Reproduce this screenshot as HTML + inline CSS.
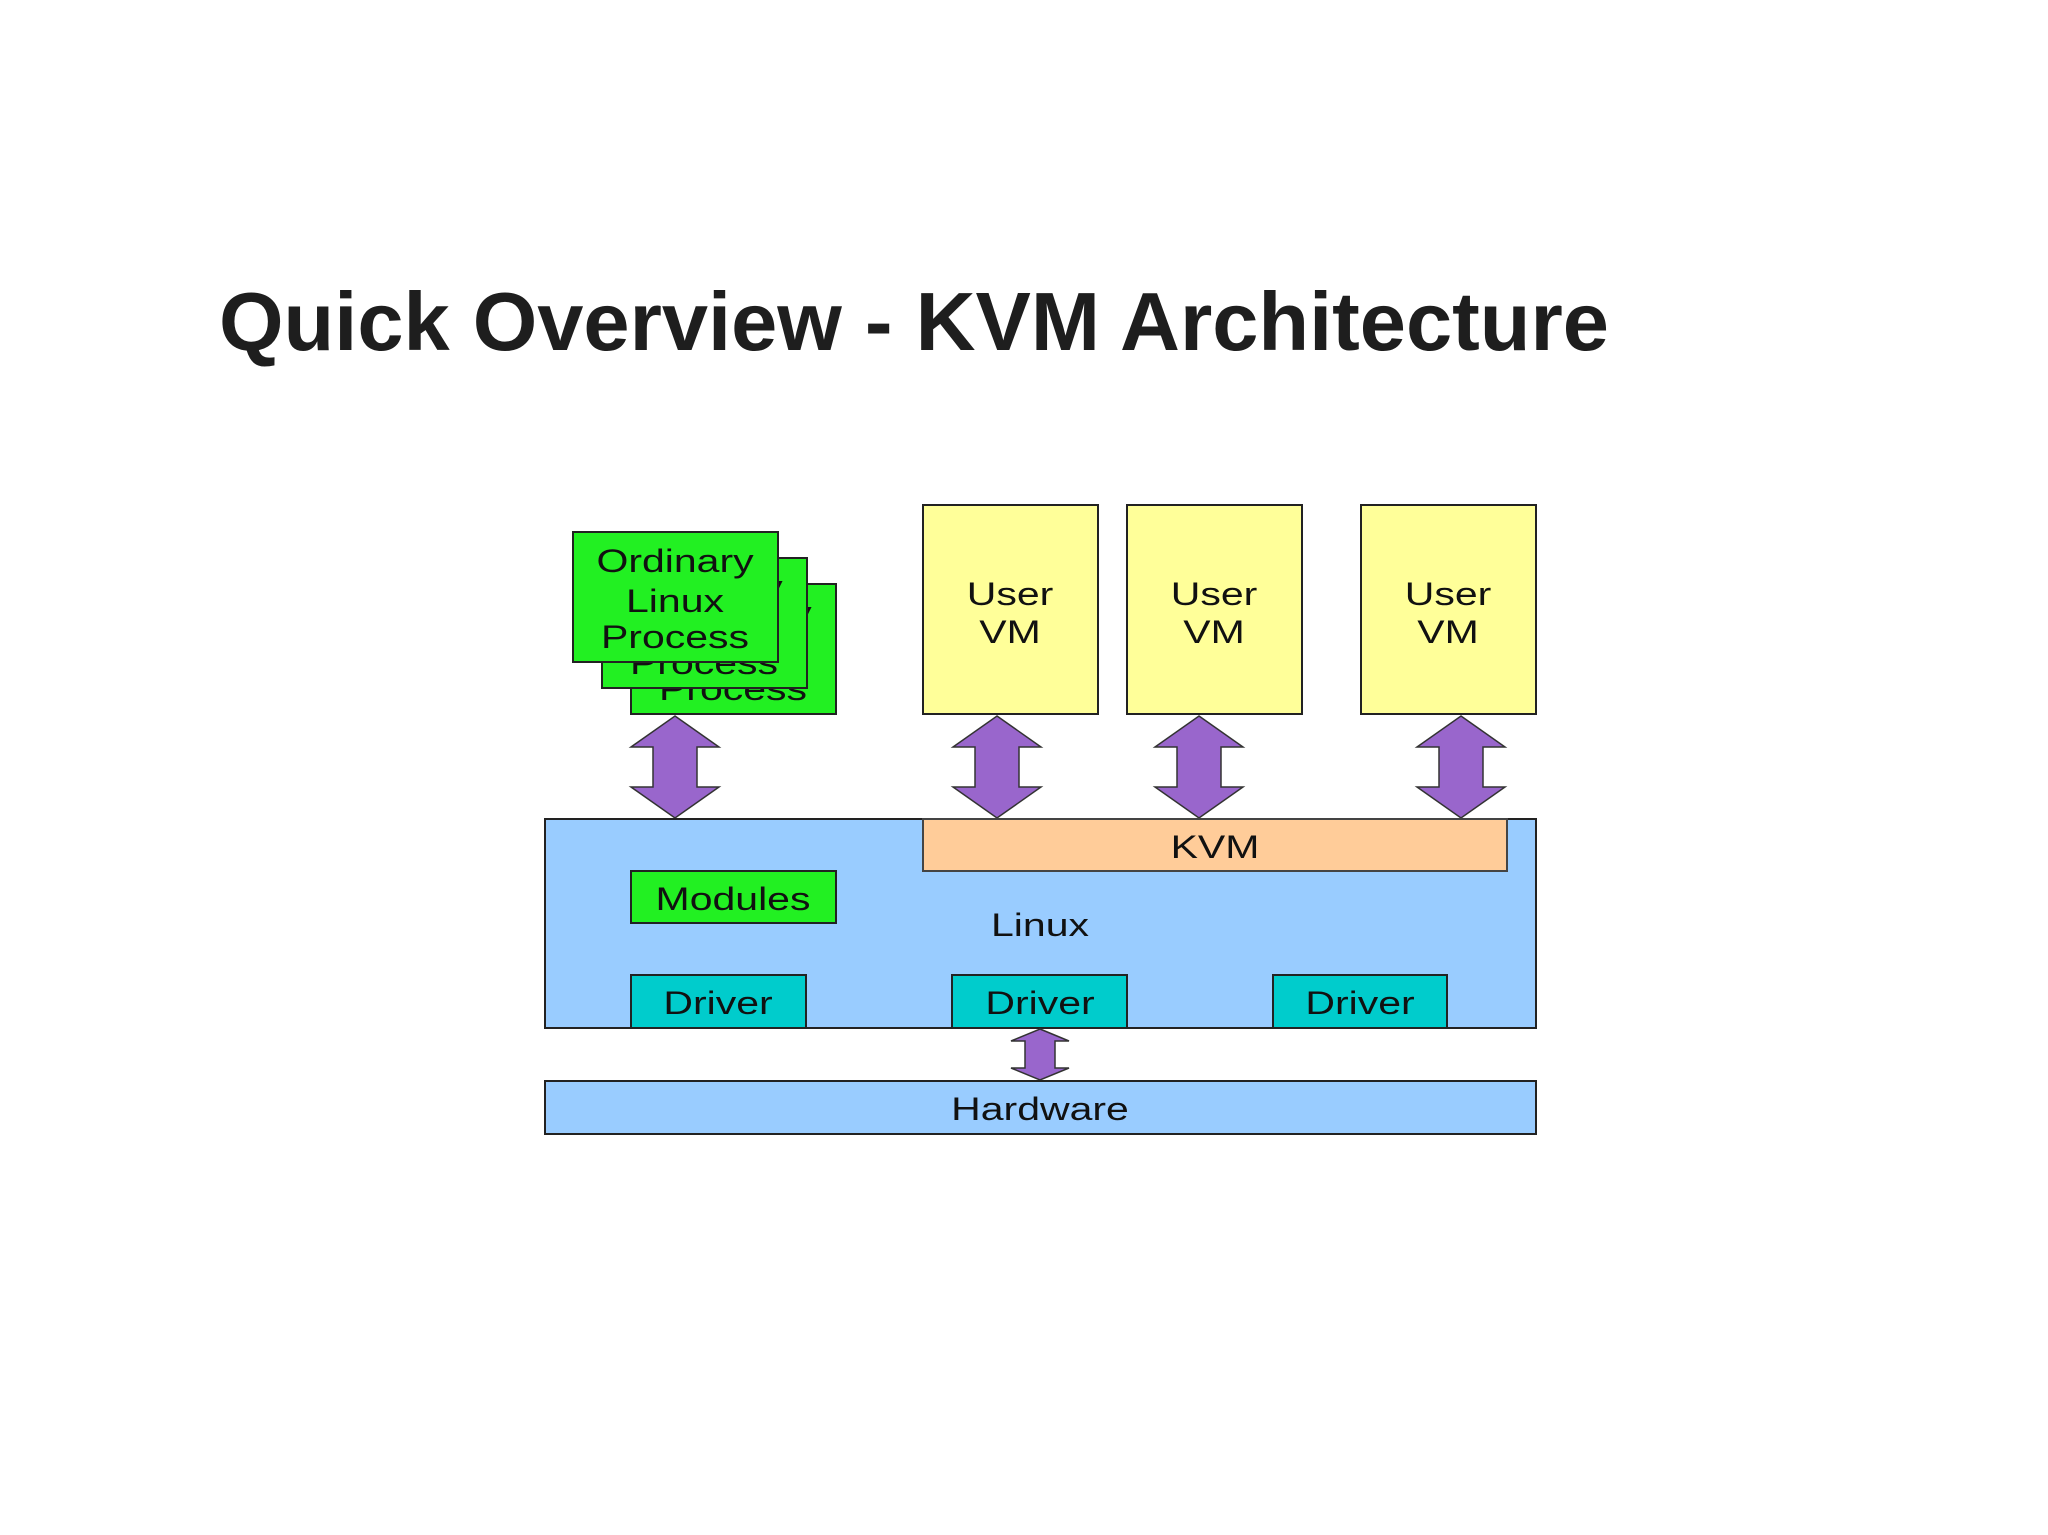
<!DOCTYPE html>
<html><head><meta charset="utf-8"><style>
html,body{margin:0;padding:0;background:#fff}
svg{display:block}
text{font-family:"Liberation Sans",Arial,sans-serif;fill:#111}
</style></head><body>
<svg width="2048" height="1535" viewBox="0 0 2048 1535" xmlns="http://www.w3.org/2000/svg">
<text x="219" y="350" font-size="83" font-weight="bold" style="fill:#1e1e1e">Quick Overview - KVM Architecture</text>

<g stroke="#222" stroke-width="2">
<!-- process stack -->
<rect x="631" y="584" width="205" height="130" fill="#22f022"/>
</g>
<g font-size="41" text-anchor="middle">
<g transform="translate(733,0)"><text transform="translate(0,624) scale(1,0.8)">Ordinary</text><text transform="translate(0,664) scale(1,0.8)">Linux</text><text transform="translate(0,700) scale(1,0.8)">Process</text></g>
</g>
<rect x="602" y="558" width="205" height="130" fill="#22f022" stroke="#222" stroke-width="2"/>
<g font-size="41" text-anchor="middle">
<g transform="translate(704,0)"><text transform="translate(0,598) scale(1,0.8)">Ordinary</text><text transform="translate(0,638) scale(1,0.8)">Linux</text><text transform="translate(0,674) scale(1,0.8)">Process</text></g>
</g>
<rect x="573" y="532" width="205" height="130" fill="#22f022" stroke="#222" stroke-width="2"/>
<g font-size="41" text-anchor="middle">
<text transform="translate(675,572) scale(1,0.8)">Ordinary</text>
<text transform="translate(675,612) scale(1,0.8)">Linux</text>
<text transform="translate(675,648) scale(1,0.8)">Process</text>
</g>

<!-- user VMs -->
<g fill="#ffff99" stroke="#222" stroke-width="2">
<rect x="923" y="505" width="175" height="209"/>
<rect x="1127" y="505" width="175" height="209"/>
<rect x="1361" y="505" width="175" height="209"/>
</g>
<g font-size="41" text-anchor="middle">
<text transform="translate(1010,605) scale(1,0.8)">User</text><text transform="translate(1010,643) scale(1,0.8)">VM</text>
<text transform="translate(1214,605) scale(1,0.8)">User</text><text transform="translate(1214,643) scale(1,0.8)">VM</text>
<text transform="translate(1448,605) scale(1,0.8)">User</text><text transform="translate(1448,643) scale(1,0.8)">VM</text>
</g>

<!-- arrows -->
<g fill="#9966cc" stroke="#333" stroke-width="1.5">
<polygon points="675,716 719,747 697,747 697,787 719,787 675,818 631,787 653,787 653,747 631,747"/>
<polygon points="997,716 1041,747 1019,747 1019,787 1041,787 997,818 953,787 975,787 975,747 953,747"/>
<polygon points="1199,716 1243,747 1221,747 1221,787 1243,787 1199,818 1155,787 1177,787 1177,747 1155,747"/>
<polygon points="1461,716 1505,747 1483,747 1483,787 1505,787 1461,818 1417,787 1439,787 1439,747 1417,747"/>
</g>

<!-- linux -->
<rect x="545" y="819" width="991" height="209" fill="#99ccff" stroke="#222" stroke-width="2"/>
<rect x="923" y="819" width="584" height="52" fill="#ffcc99" stroke="#444" stroke-width="2"/>
<rect x="631" y="871" width="205" height="52" fill="#22f022" stroke="#222" stroke-width="2"/>
<g fill="#00cccc" stroke="#222" stroke-width="2">
<rect x="631" y="975" width="175" height="53"/>
<rect x="952" y="975" width="175" height="53"/>
<rect x="1273" y="975" width="174" height="53"/>
</g>
<g font-size="41" text-anchor="middle">
<text transform="translate(1215,858) scale(1,0.8)">KVM</text>
<text transform="translate(733,910) scale(1,0.8)">Modules</text>
<text transform="translate(1040,936) scale(1,0.8)">Linux</text>
<text transform="translate(718,1014) scale(1,0.8)">Driver</text>
<text transform="translate(1040,1014) scale(1,0.8)">Driver</text>
<text transform="translate(1360,1014) scale(1,0.8)">Driver</text>
</g>

<polygon points="1040,1029 1069,1041 1055,1041 1055,1068 1069,1068 1040,1080 1011,1068 1025,1068 1025,1041 1011,1041" fill="#9966cc" stroke="#333" stroke-width="1.5"/>

<rect x="545" y="1081" width="991" height="53" fill="#99ccff" stroke="#222" stroke-width="2"/>
<text font-size="41" text-anchor="middle" transform="translate(1040,1120) scale(1,0.8)">Hardware</text>
</svg>
</body></html>
